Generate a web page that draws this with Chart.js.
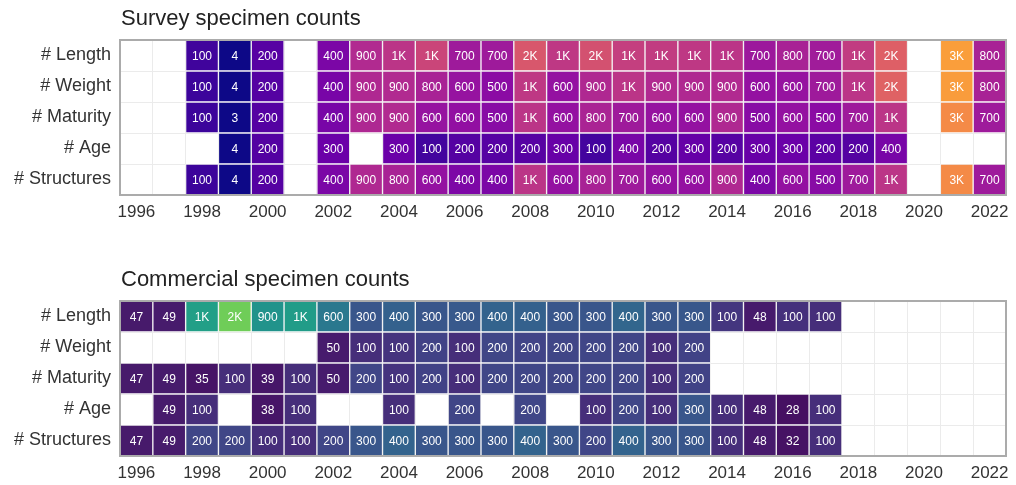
<!DOCTYPE html>
<html>
<head>
<meta charset="utf-8">
<script src="https://cdn.jsdelivr.net/npm/chart.js@4.4.1/dist/chart.umd.min.js"></script>
<style>
  html, body { margin: 0; padding: 0; background: #fff; }
  .panel { position: absolute; left: 0; width: 1016px; height: 224px; }
  #surveyBox { top: 0; }
  #commBox { top: 261px; }
</style>
</head>
<body>
<div class="panel" id="surveyBox"><canvas id="surveyChart"></canvas></div>
<div class="panel" id="commBox"><canvas id="commChart"></canvas></div>
<script>
/* ── data ─────────────────────────────────────────────── */
var years = [1996,1997,1998,1999,2000,2001,2002,2003,2004,2005,2006,2007,2008,
             2009,2010,2011,2012,2013,2014,2015,2016,2017,2018,2019,2020,2021,2022];
var rowNames = ['# Length', '# Weight', '# Maturity', '# Age', '# Structures'];

var surveyLength     = [null,null,110,4,200,null,400,900,1050,1300,700,700,1600,1100,1500,1200,1150,1100,1050,680,800,720,1150,1750,null,2950,800];
var surveyWeight     = [null,null,100,4,190,null,380,880,900,800,620,520,1100,600,880,1050,900,880,900,600,620,700,1050,1800,null,2900,800];
var surveyMaturity   = [null,null,100,3,190,null,380,870,900,620,580,500,1050,600,820,700,620,600,880,500,600,520,700,1050,null,2550,700];
var surveyAge        = [null,null,null,4,180,null,300,null,300,120,190,200,200,280,120,380,190,270,200,280,300,220,190,380,null,null,null];
var surveyStructures = [null,null,100,4,190,null,400,880,800,600,420,400,1050,600,800,700,600,600,880,400,600,500,700,1050,null,2550,700];

var commLength     = [47,49,1100,2000,920,1050,600,300,380,300,320,400,380,300,300,420,300,310,130,48,110,100,null,null,null,null,null];
var commWeight     = [null,null,null,null,null,null,50,100,120,180,100,200,190,200,200,200,100,180,null,null,null,null,null,null,null,null,null];
var commMaturity   = [47,49,35,100,39,100,50,200,120,180,100,200,200,200,200,200,100,180,null,null,null,null,null,null,null,null,null];
var commAge        = [null,49,100,null,38,100,null,null,100,null,200,null,200,null,100,200,100,300,100,48,28,100,null,null,null,null,null];
var commStructures = [47,49,200,200,100,100,200,300,400,300,300,300,400,300,200,400,300,300,100,48,32,100,null,null,null,null,null];

/* ── colour maps ──────────────────────────────────────── */
var PLASMA  = ['#0d0887','#41049d','#6a00a8','#8f0da4','#b12a90','#cc4778','#e16462','#f2844b','#fca636','#fcce25','#f0f921'];
var VIRIDIS = ['#440154','#482475','#414487','#355f8d','#2a788e','#21918c','#22a884','#44bf70','#7ad151','#bddf26','#fde725'];

function hexRgb(h){ return [parseInt(h.substr(1,2),16), parseInt(h.substr(3,2),16), parseInt(h.substr(5,2),16)]; }
function ramp(stops, t){
    t = Math.max(0, Math.min(1, t));
    var p = t * (stops.length - 1), i = Math.min(Math.floor(p), stops.length - 2), f = p - i;
    var a = hexRgb(stops[i]), b = hexRgb(stops[i+1]);
    return 'rgb(' + [0,1,2].map(function(k){ return Math.round(a[k] + (b[k]-a[k])*f); }).join(',') + ')';
}
/* sqrt-transformed fill scales */
function surveyColour(v){ return ramp(PLASMA,  (Math.sqrt(v) - 4.2) / 64.5); }
function commColour(v)  { return ramp(VIRIDIS, (Math.sqrt(v) - 3.05) / 53.5); }

function fmt(v){
    if (v < 100) return String(v);
    var r = Math.round(v / 100) * 100;
    if (r < 1000) return String(r);
    return Math.round(v / 1000) + 'K';
}

var FONT = '"Liberation Sans", Arial, sans-serif';
Chart.defaults.font.family = FONT;
Chart.defaults.animation = false;

/* cell labels + frame + title */
var cellText = {
    id: 'cellText',
    afterDatasetsDraw: function(chart){
        var c = chart.ctx;
        c.save();
        c.fillStyle = '#fff';
        c.font = '12px ' + FONT;
        c.textAlign = 'center';
        c.textBaseline = 'middle';
        chart.data.datasets.forEach(function(ds, i){
            chart.getDatasetMeta(i).data.forEach(function(bar, j){
                var v = ds.counts[j];
                if (v == null) return;
                var p = bar.getCenterPoint();
                c.fillText(fmt(v), p.x, p.y + 1);
            });
        });
        var a = chart.chartArea;
        c.strokeStyle = '#ababab';
        c.lineWidth = 2;
        c.strokeRect(a.left, a.top, a.right - a.left, a.bottom - a.top);
        c.fillStyle = '#222';
        c.font = '22px ' + FONT;
        c.textAlign = 'left';
        c.textBaseline = 'alphabetic';
        c.fillText(chart.options.plugins.panelTitle.text, a.left + 1, 25);
        c.restore();
    }
};

function heatmap(id, title, rows, colour){
    var el = document.getElementById(id);
    if (!el) return;
    var old = Chart.getChart(id);
    if (old) old.destroy();
    var datasets = rows.map(function(vals, r){
        return {
            label: rowNames[r],
            data: vals.map(function(v){ return v == null ? null : [r - 0.5, r + 0.5]; }),
            counts: vals,
            backgroundColor: vals.map(function(v){ return v == null ? 'rgba(0,0,0,0)' : colour(v); }),
            borderColor: 'rgba(255,255,255,0.3)',
            borderWidth: 1,
            borderSkipped: false,
            grouped: false,
            barPercentage: 1,
            categoryPercentage: 1
        };
    });
    new Chart(el, {
        type: 'bar',
        data: { labels: years, datasets: datasets },
        plugins: [cellText],
        options: {
            responsive: true,
            maintainAspectRatio: false,
            layout: { padding: { top: 40, right: 10, left: 0, bottom: 0 } },
            plugins: { legend: { display: false }, tooltip: { enabled: false }, panelTitle: { text: title } },
            scales: {
                x: {
                    grid: { color: '#ebebeb', drawTicks: false, offset: true },
                    border: { display: false },
                    ticks: {
                        autoSkip: false, maxRotation: 0, padding: 7,
                        color: '#333', font: { size: 17 },
                        callback: function(v, i){ return years[i] % 2 === 0 ? String(years[i]) : ''; }
                    },
                    afterFit: function(s){ s.height = 29; }
                },
                y: {
                    type: 'linear', min: -0.5, max: 4.5, reverse: true,
                    grid: { color: '#ebebeb', drawTicks: false, offset: true },
                    border: { display: false },
                    ticks: {
                        padding: 9, color: '#333', font: { size: 18 },
                        callback: function(v){ return rowNames[v]; }
                    },
                    afterBuildTicks: function(s){ s.ticks = rowNames.map(function(n, i){ return { value: i }; }); },
                    afterFit: function(s){ s.width = 120; }
                }
            }
        }
    });
}

heatmap('surveyChart', 'Survey specimen counts',
        [surveyLength, surveyWeight, surveyMaturity, surveyAge, surveyStructures], surveyColour);
heatmap('commChart', 'Commercial specimen counts',
        [commLength, commWeight, commMaturity, commAge, commStructures], commColour);
</script>
</body>
</html>
